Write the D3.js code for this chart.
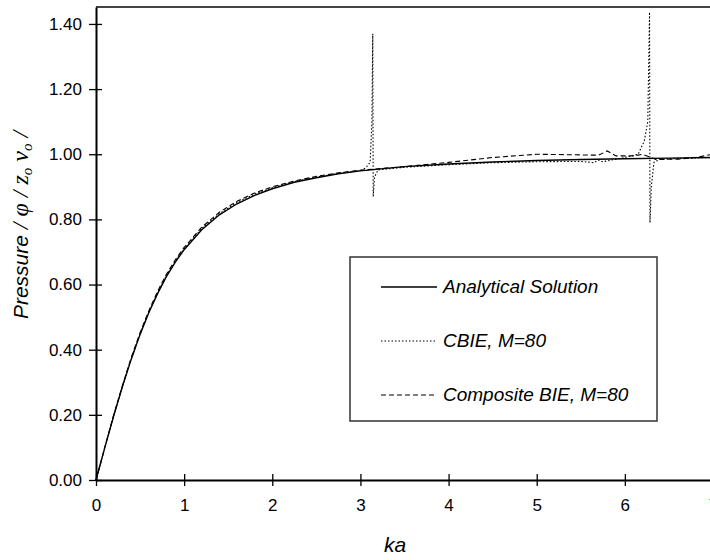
<!DOCTYPE html>
<html>
<head>
<meta charset="utf-8">
<script src="https://cdn.jsdelivr.net/npm/d3@7"></script>
<style>
  body { margin: 0; background: #fff; }
  text { font-family: Arial, "Liberation Sans", sans-serif; }
</style>
</head>
<body>
<svg width="710" height="560"></svg>
<script>
// values
const kaAnalytical = [0, 0.1, 0.2, 0.3, 0.4, 0.5, 0.6, 0.7, 0.8, 0.9, 1.0, 1.2, 1.4, 1.6, 1.8, 2.0, 2.25, 2.5, 2.75, 3.0, 3.5, 4.0, 4.5, 5.0, 5.5, 6.0, 6.5, 7.0];
const pAnalytical = [0, 0.0995, 0.196, 0.287, 0.371, 0.447, 0.514, 0.573, 0.625, 0.669, 0.707, 0.768, 0.814, 0.848, 0.874, 0.894, 0.914, 0.928, 0.940, 0.949, 0.962, 0.970, 0.976, 0.981, 0.984, 0.986, 0.988, 0.990];

const kaCBIE = [0, 0.1, 0.2, 0.3, 0.4, 0.5, 0.6, 0.7, 0.8, 0.9, 1.0, 1.2, 1.4, 1.6, 1.8, 2.0, 2.25, 2.5, 2.75, 3.0, 3.06, 3.11, 3.13, 3.14, 3.145, 3.16, 3.2, 3.5, 4.0, 4.5, 5.0, 5.5, 5.65, 5.7, 5.75, 6.0, 6.15, 6.22, 6.26, 6.28, 6.285, 6.3, 6.33, 6.4, 7.0];
const pCBIE = [0, 0.1, 0.197, 0.288, 0.372, 0.448, 0.516, 0.575, 0.628, 0.672, 0.71, 0.772, 0.818, 0.852, 0.878, 0.897, 0.916, 0.930, 0.941, 0.950, 0.958, 0.975, 1.10, 1.37, 0.87, 0.93, 0.952, 0.960, 0.968, 0.974, 0.977, 0.978, 0.974, 0.982, 0.977, 0.99, 1.0, 1.04, 1.10, 1.436, 0.79, 0.90, 0.975, 0.985, 0.99];

const kaComposite = [0, 0.1, 0.2, 0.3, 0.4, 0.5, 0.6, 0.7, 0.8, 0.9, 1.0, 1.2, 1.4, 1.6, 1.8, 2.0, 2.25, 2.5, 2.75, 3.0, 3.5, 4.0, 4.5, 5.0, 5.5, 5.7, 5.8, 5.9, 6.1, 6.2, 6.3, 6.35, 6.6, 6.8, 7.0];
const pComposite = [0, 0.1, 0.2, 0.29, 0.376, 0.452, 0.52, 0.58, 0.632, 0.676, 0.714, 0.776, 0.822, 0.856, 0.881, 0.90, 0.918, 0.932, 0.943, 0.951, 0.962, 0.975, 0.99, 1.0, 0.998, 0.997, 1.01, 0.995, 0.995, 1.0, 0.99, 0.984, 0.985, 0.99, 1.0];

const xTicks = [0, 1, 2, 3, 4, 5, 6, 7];
const yTicks = [0, 0.2, 0.4, 0.6, 0.8, 1.0, 1.2, 1.4];
const legendLabels = ['Analytical Solution', 'CBIE, M=80', 'Composite BIE, M=80'];

const svg = d3.select('svg');

const plotLeft = 96, plotRight = 713, plotTop = 7, plotBottom = 480;

const x = d3.scaleLinear().domain([0, 7]).range([plotLeft, plotRight]);
const y = d3.scaleLinear().domain([0, 1.452]).range([plotBottom, plotTop]);

const line = d3.line()
    .x(d => x(d[0]))
    .y(d => y(d[1]));

const series = [
    { ka: kaAnalytical, p: pAnalytical, width: 1.4, dash: null },
    { ka: kaCBIE, p: pCBIE, width: 1.1, dash: '1.5,2' },
    { ka: kaComposite, p: pComposite, width: 1.1, dash: '5,3' }
];

// top border
svg.append('line')
    .attr('x1', plotLeft).attr('x2', 710)
    .attr('y1', plotTop).attr('y2', plotTop)
    .attr('stroke', '#444')
    .attr('stroke-width', 2);

series.forEach(s => {
    svg.append('path')
        .attr('d', line(s.ka.map((k, i) => [k, s.p[i]])))
        .attr('fill', 'none')
        .attr('stroke', '#000')
        .attr('stroke-width', s.width)
        .attr('stroke-dasharray', s.dash);
});

// axes with ticks crossing the line
const xAxis = svg.append('g')
    .attr('transform', `translate(0,${plotBottom})`)
    .call(d3.axisBottom(x).tickValues(xTicks).tickFormat(d3.format('d')).tickSize(6).tickSizeOuter(0));
xAxis.select('.domain').attr('stroke-width', 2);
xAxis.selectAll('.tick line').attr('y1', -6).attr('stroke-width', 1.3);
xAxis.selectAll('.tick text')
    .attr('y', 19)
    .attr('font-size', 17)
    .attr('font-family', 'Arial, "Liberation Sans", sans-serif');

const yAxis = svg.append('g')
    .attr('transform', `translate(${plotLeft},0)`)
    .call(d3.axisLeft(y).tickValues(yTicks).tickFormat(d3.format('.2f')).tickSize(7).tickSizeOuter(0));
yAxis.select('.domain').attr('stroke-width', 2);
yAxis.selectAll('.tick line').attr('x1', 6).attr('stroke-width', 1.3);
yAxis.selectAll('.tick text')
    .attr('x', -14)
    .attr('font-size', 17)
    .attr('font-family', 'Arial, "Liberation Sans", sans-serif');

// axis titles
svg.append('text')
    .attr('x', 395)
    .attr('y', 552)
    .attr('text-anchor', 'middle')
    .attr('font-size', 21)
    .attr('font-style', 'italic')
    .text('ka');

const yTitle = svg.append('text')
    .attr('transform', 'translate(28,225) rotate(-90)')
    .attr('text-anchor', 'middle')
    .attr('font-size', 21)
    .attr('font-style', 'italic');
yTitle.append('tspan').text('Pressure ');
yTitle.append('tspan')
    .attr('font-family', '"Liberation Serif", "DejaVu Serif", serif')
    .attr('font-size', 24)
    .text('/ φ / z');
yTitle.append('tspan')
    .attr('font-family', '"Liberation Serif", serif')
    .attr('font-size', 15)
    .attr('dy', 4)
    .text('o');
yTitle.append('tspan')
    .attr('font-family', '"Liberation Serif", serif')
    .attr('font-size', 24)
    .attr('dy', -4)
    .text(' v');
yTitle.append('tspan')
    .attr('font-family', '"Liberation Serif", serif')
    .attr('font-size', 15)
    .attr('dy', 4)
    .text('o');
yTitle.append('tspan')
    .attr('font-family', '"Liberation Serif", serif')
    .attr('font-size', 24)
    .attr('dy', -4)
    .text(' /');

// legend
const legend = svg.append('g');
legend.append('rect')
    .attr('x', 350).attr('y', 257)
    .attr('width', 307).attr('height', 164)
    .attr('fill', '#fff')
    .attr('stroke', '#333')
    .attr('stroke-width', 1.5);

legendLabels.forEach((label, i) => {
    const ly = 287 + i * 54;
    legend.append('line')
        .attr('x1', 381).attr('x2', 437)
        .attr('y1', ly).attr('y2', ly)
        .attr('stroke', '#000')
        .attr('stroke-width', series[i].width)
        .attr('stroke-dasharray', series[i].dash);
    legend.append('text')
        .attr('x', 443)
        .attr('y', ly + 6)
        .attr('font-size', 19)
        .attr('font-style', 'italic')
        .text(label);
});
</script>
</body>
</html>
